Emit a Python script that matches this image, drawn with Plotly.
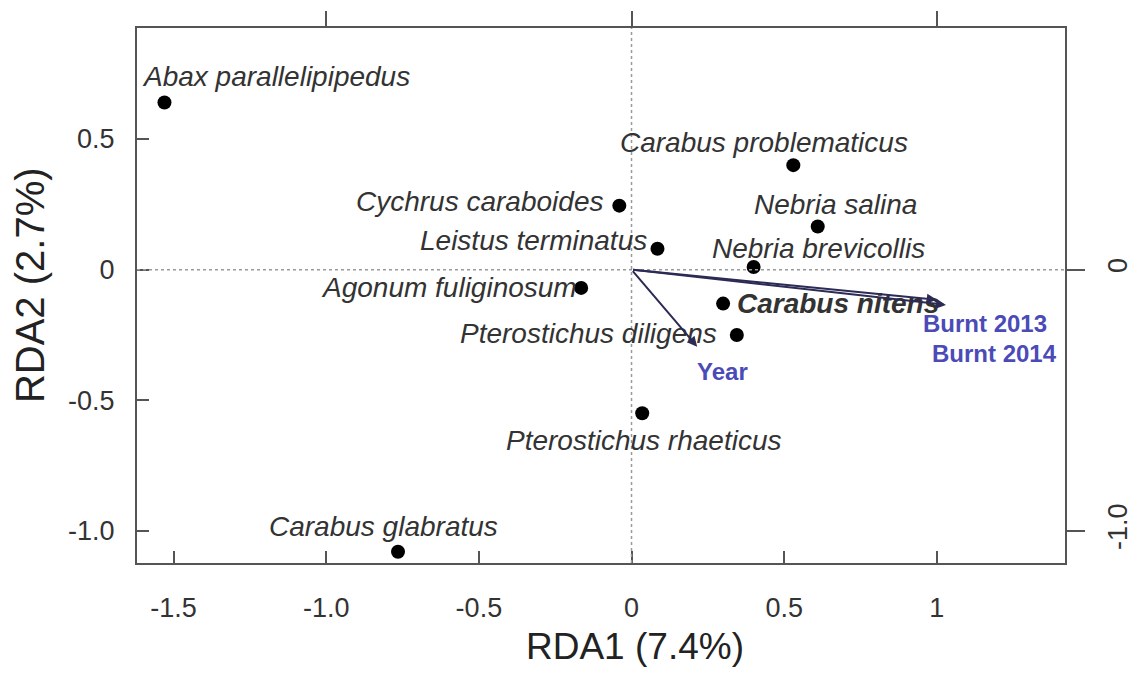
import plotly.graph_objects as go

species = ["Abax parallelipipedus", "Carabus problematicus", "Cychrus caraboides",
           "Nebria salina", "Leistus terminatus", "Nebria brevicollis",
           "Agonum fuliginosum", "Carabus nitens", "Pterostichus diligens",
           "Pterostichus rhaeticus", "Carabus glabratus"]
rda1 = [-1.53, 0.53, -0.04, 0.61, 0.085, 0.40, -0.165, 0.30, 0.345, 0.035, -0.765]
rda2 = [0.64, 0.40, 0.245, 0.165, 0.08, 0.01, -0.07, -0.13, -0.25, -0.55, -1.08]

env_names = ["Burnt 2013", "Burnt 2014", "Year"]
env_x = [1.0, 1.03, 0.215]
env_y = [-0.115, -0.135, -0.295]

x_ticks = [-1.5, -1.0, -0.5, 0, 0.5, 1]
x_ticktext = ["-1.5", "-1.0", "-0.5", "0", "0.5", "1"]
y_ticks = [0.5, 0, -0.5, -1.0]
y_ticktext = ["0.5", "0", "-0.5", "-1.0"]
y2_ticks = [0, -1.0]
y2_ticktext = ["0", "-1.0"]
x2_ticks = [-1, 0, 1]

x_title = "RDA1 (7.4%)"
y_title = "RDA2 (2.7%)"

# label offsets (pixels) relative to each point: (xshift, yshift)
label_offsets = [(112, 26), (-29, 23), (-140, 4), (18, 22), (-124, 8), (65, 19),
                 (-132, 0), (115, 0), (-148, 1), (1, -27), (-15, 25)]
env_offsets = [(48, -24), (49, -49), (25, -25)]

XR = [-1.62, 1.42]
YR = [-1.123, 0.925]
axis_col = "#555555"
txt_col = "#333333"
FONT = "Liberation Sans, Arial"

fig = go.Figure()
fig.add_trace(go.Scatter(x=rda1, y=rda2, mode="markers",
                         marker=dict(color="black", size=14), hoverinfo="skip",
                         showlegend=False))
fig.add_trace(go.Scatter(x=[0], y=[0], xaxis="x2", yaxis="y2", mode="markers",
                         marker=dict(opacity=0), showlegend=False, hoverinfo="skip"))

# dotted zero lines
fig.add_shape(type="line", xref="paper", x0=0, x1=1, yref="y", y0=0, y1=0,
              line=dict(color="#999999", width=1.5, dash="dot"))
fig.add_shape(type="line", yref="paper", y0=0, y1=1, xref="x", x0=0, x1=0,
              line=dict(color="#999999", width=1.5, dash="dot"))

for i, name in enumerate(species):
    dx, dy = label_offsets[i]
    txt = f"<b><i>{name}</i></b>" if name == "Carabus nitens" else f"<i>{name}</i>"
    fig.add_annotation(x=rda1[i], y=rda2[i], text=txt, showarrow=False,
                       xshift=dx, yshift=dy,
                       font=dict(family=FONT, size=28, color=txt_col))

for i, name in enumerate(env_names):
    fig.add_annotation(x=env_x[i], y=env_y[i], ax=0, ay=0, axref="x", ayref="y",
                       xref="x", yref="y", text="", showarrow=True,
                       arrowhead=2, arrowsize=1, arrowwidth=2, arrowcolor="#2b2b55")
    dx, dy = env_offsets[i]
    fig.add_annotation(x=env_x[i], y=env_y[i], text=f"<b>{name}</b>", showarrow=False,
                       xshift=dx, yshift=dy,
                       font=dict(family=FONT, size=24, color="#4b4bb8"))

# axis titles
fig.add_annotation(xref="paper", yref="paper", x=0.537, y=-0.157, text=x_title,
                   showarrow=False, xanchor="center", yanchor="middle",
                   font=dict(family=FONT, size=37, color="#222"))
fig.add_annotation(xref="paper", yref="paper", x=-0.115, y=0.52, text=y_title,
                   showarrow=False, xanchor="center", yanchor="middle", textangle=-90,
                   font=dict(family=FONT, size=40, color="#222"))

fig.update_layout(
    width=1126, height=659,
    margin=dict(l=129, r=69, t=20, b=104),
    paper_bgcolor="white", plot_bgcolor="white",
    font=dict(family=FONT, color=txt_col),
    xaxis=dict(range=XR, tickvals=x_ticks, ticktext=x_ticktext, ticks="inside",
               ticklen=12, tickwidth=2, tickcolor=axis_col, showgrid=False,
               zeroline=False, showline=True, linecolor=axis_col, linewidth=2,
               ticklabelstandoff=20,
               automargin=False, tickfont=dict(size=27, color=txt_col)),
    yaxis=dict(range=YR, tickvals=y_ticks, ticktext=y_ticktext, ticks="inside",
               ticklen=12, tickwidth=2, tickcolor=axis_col, showgrid=False,
               zeroline=False, showline=True, linecolor=axis_col, linewidth=2,
               ticklabelstandoff=15,
               automargin=False, tickfont=dict(size=27, color=txt_col)),
    xaxis2=dict(range=XR, overlaying="x", side="top", tickvals=x2_ticks, ticks="outside",
                ticklen=15, tickwidth=2, tickcolor=axis_col, showticklabels=False,
                automargin=False,
                showgrid=False, zeroline=False, showline=True, linecolor=axis_col, linewidth=2),
    yaxis2=dict(range=YR, overlaying="y", side="right", tickvals=y2_ticks,
                ticktext=y2_ticktext, ticks="outside", ticklen=18, tickwidth=2,
                tickcolor=axis_col, tickangle=-90, showgrid=False, zeroline=False,
                automargin=False, ticklabelstandoff=10,
                showline=True, linecolor=axis_col, linewidth=2,
                tickfont=dict(size=27, color=txt_col)),
)

fig.write_html("out.html")
